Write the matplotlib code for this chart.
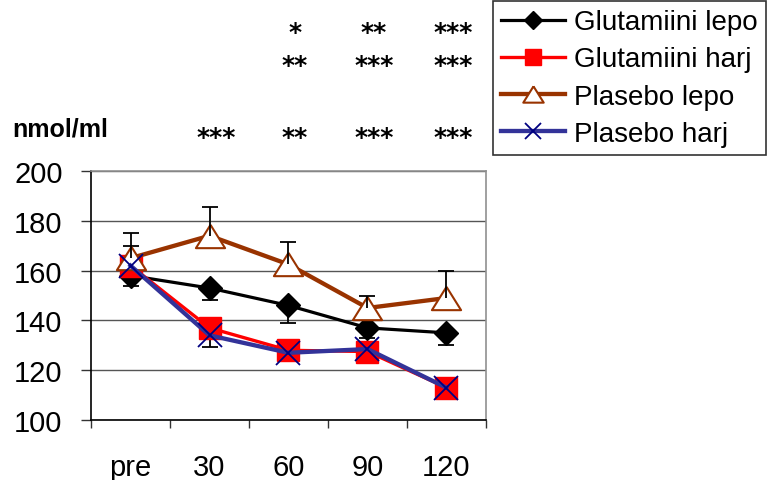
import numpy as np
import matplotlib
matplotlib.use('Agg')
import matplotlib.pyplot as plt
from matplotlib import transforms

plt.rcParams['font.family'] = ['Liberation Sans', 'DejaVu Sans']

# data
times = ['pre', '30', '60', '90', '120']
glut_lepo = [158, 153, 146, 137, 135]
glut_lepo_err = [4, 5, 7, 4, 5]          # drawn downwards
glut_harj = [162, 137, 128, 127.5, 113]
glut_harj_err = [8, 3, 3, 3, 3]          # drawn upwards
plas_lepo = [165, 174, 162.5, 145, 149]
plas_lepo_err = [10, 11.5, 9, 5, 11]     # drawn upwards
plas_harj = [162, 134, 127, 128.5, 113]
plas_harj_err = [3, 4.5, 3, 3, 4.5]      # drawn downwards

# significance stars, one row per line above the chart
stars_row1 = ['', '', '*', '**', '***']
stars_row2 = ['', '', '**', '***', '***']
stars_row3 = ['', '***', '**', '***', '***']

fig = plt.figure(figsize=(7.68, 4.81), dpi=100)
ax = fig.add_axes([0.1185, 0.1247, 0.6328 - 0.1185, 0.6424 - 0.1247])
x = np.arange(len(times))

l1, = ax.plot(x, glut_lepo, color='black', lw=2.3, marker='D', ms=12.5,
              mfc='black', mec='black', zorder=3, label='Glutamiini lepo')
l2, = ax.plot(x, glut_harj, color='#FF0000', lw=2.4, marker='s', ms=16.5,
              mfc='#FF0000', mec='#FF0000', zorder=4, label='Glutamiini harj')
tri = [(0, 0.8), (-1, -0.8), (1, -0.8), (0, 0.8)]
l3, = ax.plot(x, plas_lepo, color='#993300', lw=3.1, marker=tri, ms=21,
              mfc='white', mec='#993300', mew=1.5, zorder=5, label='Plasebo lepo')
l4, = ax.plot(x, plas_harj, color='#333399', lw=3.1, marker='x', ms=17,
              mec='#000080', mew=1.3, zorder=6, label='Plasebo harj')


def one_sided_bars(y, err, sign, z):
    # one-sided error bar: a vertical line and a single cap at the end
    y = np.asarray(y, dtype=float)
    end = y + sign * np.asarray(err, dtype=float)
    ax.vlines(x, y, end, color='black', lw=1.3, zorder=z)
    ax.plot(x, end, ls='none', marker='_', ms=12, mew=1.3, color='black', zorder=z)


one_sided_bars(glut_lepo, glut_lepo_err, -1, 3.5)
one_sided_bars(glut_harj, glut_harj_err, 1, 3.5)
one_sided_bars(plas_lepo, plas_lepo_err, 1, 7)
one_sided_bars(plas_harj, plas_harj_err, -1, 3.5)

ax.set_xlim(-0.5, len(times) - 0.5)
ax.set_ylim(100, 200)
ax.set_yticks(np.arange(100, 201, 20))
ax.set_xticks(x)
ax.set_xticklabels(times)
ax.set_xticks(np.arange(-0.5, len(times)), minor=True)
ax.tick_params(axis='x', which='major', length=0, pad=24, labelsize=21)
ax.tick_params(axis='x', which='minor', length=6, width=1, direction='out', color='#333333')
ax.tick_params(axis='y', length=7.5, width=1, pad=13, labelsize=21, color='#333333')
ax.yaxis.grid(True, color='#555555', lw=1)
ax.set_axisbelow(True)
for s in ['left', 'bottom']:
    ax.spines[s].set_color('black')
    ax.spines[s].set_linewidth(1.2)
for s in ['top', 'right']:
    ax.spines[s].set_color('#909090')
    ax.spines[s].set_linewidth(1.2)

# stars: x from data, y in figure fraction
trans = transforms.blended_transform_factory(ax.transData, fig.transFigure)
for row, yf in [(stars_row1, 1 - 33 / 481), (stars_row2, 1 - 66 / 481), (stars_row3, 1 - 138 / 481)]:
    for i, s in enumerate(row):
        if s:
            ax.text(i + 0.08, yf, s, transform=trans, ha='center', va='center',
                    fontsize=18, fontweight='bold', family='DejaVu Sans', clip_on=False)

fig.text(12 / 768, 1 - 137 / 481, 'nmol/ml', fontsize=18, fontweight='bold',
         ha='left', va='baseline')

leg = fig.legend(handles=[l1, l2, l3, l4], loc='upper left',
                 bbox_to_anchor=(493 / 768, 1 - 2 / 481), borderaxespad=0,
                 fontsize=20, frameon=True, fancybox=False, edgecolor='black',
                 handlelength=2.3, handletextpad=0.3, labelspacing=0.4,
                 borderpad=0.3, markerscale=0.7)
leg.get_frame().set_linewidth(1.2)

fig.savefig('out.png', dpi=100)
